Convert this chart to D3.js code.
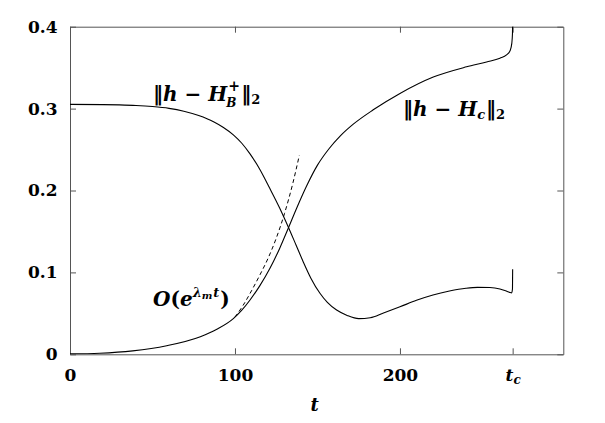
<!DOCTYPE html>
<html>
<head>
<meta charset="utf-8">
<script src="https://cdn.jsdelivr.net/npm/d3@7"></script>
<style>
  body { margin: 0; background: #fff; }
  svg { display: block; }
  .axis text { font-family: "DejaVu Serif", serif; font-weight: bold; font-size: 17px; fill: #000; }
  .axis path, .axis line { stroke: #555; }
  .math { font-family: "DejaVu Serif", serif; font-weight: bold; font-size: 20px; fill: #000; }
</style>
</head>
<body>
<div id="chart"></div>
<script>
// time values and the two distances
var tc = 268.3;

var tB = [0, 20, 30, 40, 50, 60, 69, 78, 87, 93, 99, 104, 109, 115, 121, 127, 132.3, 137, 141.4, 146, 151.5, 156, 161.6, 168, 175, 182, 190, 200, 210, 220, 230, 240, 247, 254.5, 260.6, 264, 266.5, 267.7, 268.2, 268.3];
var normB = [0.3052, 0.3049, 0.3045, 0.3038, 0.3025, 0.3003, 0.2968, 0.2915, 0.2840, 0.2770, 0.2680, 0.2580, 0.2450, 0.2260, 0.2030, 0.1790, 0.1555, 0.1335, 0.1128, 0.0930, 0.0745, 0.0634, 0.0540, 0.0475, 0.0436, 0.0447, 0.0505, 0.058, 0.0659, 0.0724, 0.0772, 0.0806, 0.0817, 0.0815, 0.0797, 0.0775, 0.0756, 0.0750, 0.080, 0.1038];

var tC = [0, 18, 38, 58.6, 79, 89, 99, 104, 109, 115, 121.2, 127, 132.3, 137.5, 143.4, 150, 157, 164, 171.7, 183.8, 200, 220.2, 240.4, 252.5, 260.6, 264.6, 266.8, 267.8, 268.2, 268.3];
var normC = [0.0005, 0.0013, 0.0042, 0.0105, 0.0215, 0.0305, 0.0435, 0.0535, 0.0660, 0.0835, 0.1050, 0.1290, 0.1540, 0.1790, 0.2055, 0.2310, 0.2510, 0.2670, 0.2810, 0.2985, 0.3185, 0.3385, 0.3510, 0.3570, 0.3615, 0.3655, 0.371, 0.380, 0.392, 0.41];

// exponential growth guide (dashed)
var tE = [100, 105, 110, 115, 120, 125, 130, 135, 139];
var expE = [0.0455, 0.060, 0.0775, 0.0965, 0.117, 0.1417, 0.1718, 0.2083, 0.243];

var xTicks = [0, 100, 200, tc];
var yTicks = [0, 0.1, 0.2, 0.3, 0.4];

var width = 605, height = 423;
var margin = { top: 26.7, right: 41.7, bottom: 68.7, left: 70 };
var chartWidth = width - margin.left - margin.right;
var chartHeight = height - margin.top - margin.bottom;

var x = d3.scaleLinear().domain([0, 299]).range([0, chartWidth]);
var y = d3.scaleLinear().domain([0, 0.4]).range([chartHeight, 0]);

var svg = d3.select('#chart').append('svg')
  .attr('width', width)
  .attr('height', height);

svg.append('defs').append('clipPath').attr('id', 'clip')
  .append('rect').attr('width', chartWidth).attr('height', chartHeight);

var chart = svg.append('g')
  .attr('transform', `translate(${margin.left}, ${margin.top})`);

// axes, ticks pointing inwards
chart.append('g').attr('class', 'axis')
  .call(d3.axisLeft(y).tickValues(yTicks).tickSizeInner(-6).tickSizeOuter(0).tickPadding(12.5)
    .tickFormat(d => d === 0 ? '0' : d3.format('.1f')(d)));

chart.append('g').attr('class', 'axis')
  .attr('transform', `translate(${chartWidth}, 0)`)
  .call(d3.axisRight(y).tickValues(yTicks).tickSizeInner(-6).tickSizeOuter(0).tickFormat(''));

chart.append('g').attr('class', 'axis')
  .call(d3.axisTop(x).tickValues(xTicks).tickSizeInner(-6).tickSizeOuter(0).tickFormat(''));

var xAxis = chart.append('g').attr('class', 'axis')
  .attr('transform', `translate(0, ${chartHeight})`)
  .call(d3.axisBottom(x).tickValues(xTicks).tickSizeInner(-6).tickSizeOuter(0).tickPadding(14.5)
    .tickFormat(d => d === tc ? '' : d));

// t_c label
xAxis.selectAll('.tick').filter(d => d === tc).select('text')
  .each(function () {
    var t = d3.select(this);
    t.append('tspan').style('font-style', 'italic').text('t');
    t.append('tspan').style('font-style', 'italic').style('font-size', '12px')
      .attr('dy', '0.25em').text('c');
  });

svg.append('text').attr('class', 'axis')
  .attr('x', margin.left + chartWidth / 2 - 2)
  .attr('y', 411)
  .attr('text-anchor', 'middle')
  .style('font-family', '"DejaVu Serif", serif')
  .style('font-weight', 'bold')
  .style('font-size', '18px')
  .style('font-style', 'italic')
  .text('t');

var line = d3.line()
  .x(d => x(d[0]))
  .y(d => y(d[1]))
  .curve(d3.curveMonotoneX);

var plot = chart.append('g').attr('clip-path', 'url(#clip)');

plot.append('path')
  .datum(d3.zip(tB, normB))
  .attr('d', line)
  .attr('fill', 'none')
  .attr('stroke', '#000')
  .attr('stroke-width', 1.1);

plot.append('path')
  .datum(d3.zip(tC, normC))
  .attr('d', line)
  .attr('fill', 'none')
  .attr('stroke', '#000')
  .attr('stroke-width', 1.1);

plot.append('path')
  .datum(d3.zip(tE, expE))
  .attr('d', line)
  .attr('fill', 'none')
  .attr('stroke', '#000')
  .attr('stroke-width', 1)
  .attr('stroke-dasharray', '4,3');

// math labels built from tspans
function label(xp, yp, parts) {
  var t = svg.append('text').attr('class', 'math').attr('x', xp).attr('y', yp);
  parts.forEach(function (p) {
    var s = t.append('tspan').text(p.s);
    if (p.it) s.style('font-style', 'italic');
    if (p.size) s.style('font-size', p.size + 'px');
    if (p.dy) s.attr('dy', p.dy);
    if (p.dx) s.attr('dx', p.dx);
  });
  return t;
}

function small(xp, yp, s, size) {
  return svg.append('text').attr('class', 'math')
    .attr('x', xp).attr('y', yp)
    .style('font-style', 'italic').style('font-size', size + 'px')
    .text(s);
}

// ||h - H_B^+||_2 : sup and sub stacked as separate texts
var l1 = label(153, 101, [
  { s: '‖' }, { s: 'h', it: 1 }, { s: ' − ' }, { s: 'H', it: 1 }
]);
var w1 = l1.node().getComputedTextLength();
small(153 + w1 + 1, 91, '+', 14).style('font-style', 'normal');
small(153 + w1 - 1, 107, 'B', 12);
label(153 + w1 + 14, 101, [{ s: '‖' }, { s: '2', size: 13, dy: 3 }]);

label(403, 116, [
  { s: '‖' }, { s: 'h', it: 1 }, { s: ' − ' }, { s: 'H', it: 1 },
  { s: 'c', it: 1, size: 13, dy: 3 },
  { s: '‖', dy: -3, dx: 1 }, { s: '2', size: 13, dy: 3 }
]);

label(153, 306, [
  { s: 'O', it: 1 }, { s: '(' }, { s: 'e', it: 1 },
  { s: 'λ', it: 1, size: 13, dy: -9 },
  { s: 'm', it: 1, size: 10, dy: 2 },
  { s: 't', it: 1, size: 13, dy: -2, dx: 1 },
  { s: ')', dy: 9, dx: 1 }
]);
</script>
</body>
</html>
